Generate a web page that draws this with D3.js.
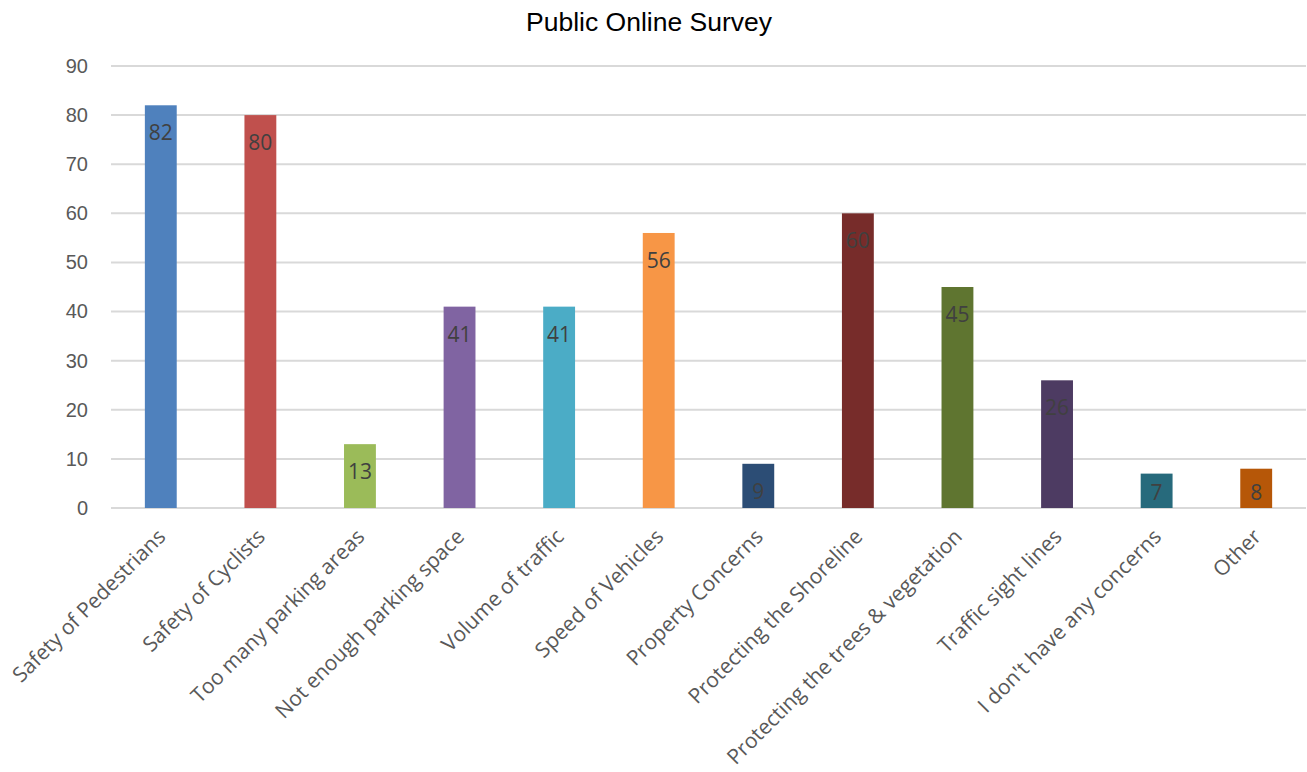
<!DOCTYPE html>
<html>
<head>
<meta charset="utf-8">
<script src="https://cdn.jsdelivr.net/npm/d3@7"></script>
<style>
  body { margin: 0; background: #fff; }
  svg { display: block; }
</style>
</head>
<body>
<div id="chart"></div>
<script>
const categories = ["Safety of Pedestrians", "Safety of Cyclists", "Too many parking areas",
  "Not enough parking space", "Volume of traffic", "Speed of Vehicles", "Property Concerns",
  "Protecting the Shoreline", "Protecting the trees & vegetation", "Traffic sight lines",
  "I don't have any concerns", "Other"];
const values = [82, 80, 13, 41, 41, 56, 9, 60, 45, 26, 7, 8];
const yTicks = [0, 10, 20, 30, 40, 50, 60, 70, 80, 90];
const barColors = ["#4F81BD", "#C0504D", "#9BBB59", "#8064A2", "#4BACC6", "#F79646",
  "#2C4D75", "#772C2A", "#5F7530", "#4D3B62", "#276A7C", "#B65708"];

const width = 1307, height = 772;
const margin = { top: 66, right: 1, bottom: 264, left: 111 };

const svg = d3.select("#chart")
    .append("svg")
    .attr("width", width)
    .attr("height", height);

svg.append("text")
    .attr("x", 649)
    .attr("y", 31)
    .attr("text-anchor", "middle")
    .style("font-family", "Liberation Sans, Arial, sans-serif")
    .style("font-size", "26.5px")
    .attr("fill", "#000")
    .text("Public Online Survey");

const x = d3.scaleBand()
    .domain(categories)
    .range([margin.left, width - margin.right])
    .paddingInner(0.68)
    .paddingOuter(0.34);

const y = d3.scaleLinear()
    .domain([0, 90])
    .range([height - margin.bottom, margin.top]);

// gridlines
svg.append("g")
    .selectAll("line")
    .data(yTicks)
    .enter()
    .append("line")
    .attr("x1", margin.left)
    .attr("x2", width - margin.right)
    .attr("y1", d => y(d))
    .attr("y2", d => y(d))
    .attr("stroke", "#d9d9d9")
    .attr("stroke-width", 2);

// y axis labels
const yAxis = svg.append("g")
    .attr("transform", `translate(${margin.left},0)`)
    .call(d3.axisLeft(y).tickValues(yTicks).tickSize(0).tickPadding(23));
yAxis.select(".domain").remove();
yAxis.selectAll("text")
    .style("font-family", "Liberation Sans, Arial, sans-serif")
    .style("font-size", "20px")
    .attr("fill", "#595959");

// bars
svg.selectAll(".bar")
    .data(values)
    .enter()
    .append("rect")
    .attr("class", "bar")
    .attr("x", (d, i) => x(categories[i]))
    .attr("y", d => y(d))
    .attr("width", x.bandwidth())
    .attr("height", d => y(0) - y(d))
    .attr("fill", (d, i) => barColors[i]);

// data labels, inside end
svg.selectAll(".lbl")
    .data(values)
    .enter()
    .append("text")
    .attr("class", "lbl")
    .attr("x", (d, i) => x(categories[i]) + x.bandwidth() / 2)
    .attr("y", d => Math.min(y(d) + 35, y(0) - 8))
    .attr("text-anchor", "middle")
    .style("font-family", "'Open Sans', sans-serif")
    .style("font-size", "21px")
    .attr("fill", "#404040")
    .text(d => d);

// category labels
const xAxis = svg.append("g")
    .attr("transform", `translate(0,${y(0)})`)
    .call(d3.axisBottom(x).tickSize(0).tickPadding(0));
xAxis.select(".domain").remove();
xAxis.selectAll("text")
    .attr("text-anchor", "end")
    .attr("dy", 0)
    .attr("transform", "translate(6,30) rotate(-45)")
    .style("font-family", "'Open Sans', sans-serif")
    .style("font-size", "21px")
    .attr("fill", "#595959");
</script>
</body>
</html>
